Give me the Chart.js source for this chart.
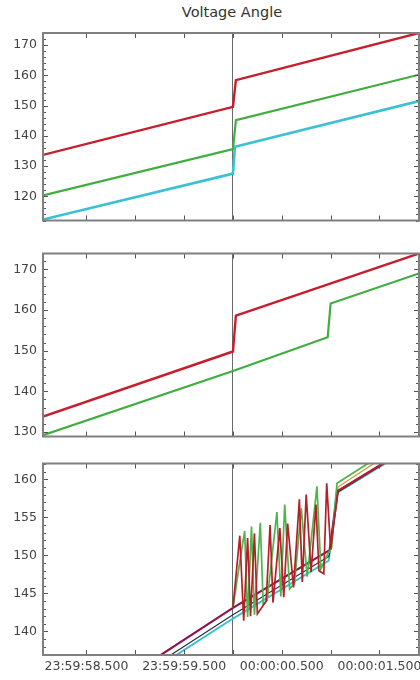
<!DOCTYPE html>
<html>
<head>
<meta charset="utf-8">
<script src="https://cdn.jsdelivr.net/npm/chart.js@4"></script>
<style>
  html, body { margin: 0; padding: 0; background: #fff; }
  #wrap { position: relative; width: 420px; height: 680px; overflow: hidden; }
  #wrap canvas { position: absolute; left: 0; }
  #title { position: absolute; top: 4px; left: 44px; width: 376px; text-align: center;
           font: 14.5px "DejaVu Sans", sans-serif; color: #333; }
</style>
</head>
<body>
<div id="wrap">
  <div id="title">Voltage Angle</div>
  <canvas id="c1" width="420" height="234" style="top:0"></canvas>
  <canvas id="c2" width="420" height="210" style="top:240px"></canvas>
  <canvas id="c3" width="420" height="230" style="top:450px"></canvas>
</div>
<script>
// ---- Data (time in seconds relative to 00:00:00.000, angle in degrees) ----
const timeRange = [-1.945, 1.905];
const labelTimes = [-1.5, -0.5, 0.5, 1.5];
const timeLabels = ["23:59:58.500", "23:59:59.500", "00:00:00.500", "00:00:01.500"];

// panel 1
const p1Red   = [[-1.945, 133.7], [0, 149.6], [0.03, 158.4], [1.905, 174.0]];
const p1Green = [[-1.945, 120.3], [0, 135.6], [0.03, 145.2], [1.905, 160.2]];
const p1Cyan  = [[-1.945, 112.3], [0, 127.5], [0.02, 136.4], [1.905, 151.5]];

// panel 2
const p2Red   = [[-1.945, 133.8], [0, 149.8], [0.03, 158.6], [1.905, 173.9]];
const p2Green = [[-1.945, 129.2], [0, 145.0], [0.97, 153.3], [1.0, 161.6], [1.905, 169.0]];

// panel 3
const p3Red = [[0, 143.1], [0.07, 152.6], [0.11, 141.4], [0.15, 152.3], [0.18, 142.0], [0.22, 152.9],
  [0.25, 142.3], [0.34, 144.0], [0.38, 154.0], [0.41, 143.8], [0.48, 153.6], [0.52, 144.5],
  [0.56, 154.2], [0.62, 145.8], [0.68, 157.4], [0.71, 146.5], [0.75, 158.0], [0.80, 147.8],
  [0.85, 156.7], [0.88, 148.0], [0.93, 147.6], [0.96, 159.5], [1.0, 150.8], [1.075, 158.5],
  [1.53, 162.0], [1.905, 165.0]];
const p3Green = [[0, 143.1], [0.08, 150.0], [0.12, 153.2], [0.15, 141.9], [0.19, 153.8], [0.22, 142.2],
  [0.28, 154.3], [0.31, 143.5], [0.35, 144.1], [0.45, 155.7], [0.49, 144.6], [0.53, 156.7],
  [0.58, 145.6], [0.63, 146.3], [0.70, 156.2], [0.76, 147.2], [0.86, 159.1], [0.90, 148.2],
  [0.97, 150.2], [1.01, 151.0], [1.065, 159.5], [1.37, 162.0], [1.905, 166.4]];
const p3Purple = [[-1.945, 126.8], [0, 143.1], [0.99, 150.7], [1.075, 158.5], [1.905, 165.0]];
const p3Orange = [[0.99, 150.3], [1.075, 159.0], [1.905, 166.0]];
const p3Dark   = [[-1.945, 126.0], [0, 142.2], [0.985, 149.9], [1.065, 158.3], [1.905, 164.9]];
const p3Cyan   = [[-1.945, 125.6], [0, 141.7], [0.98, 149.3], [1.06, 158.2], [1.905, 164.8]];

// y ranges / steps per panel
const p1YRange = [112, 174], p1YStep = 10, p1Minor = 2;
const p2YRange = [128.9, 173.9], p2YStep = 10, p2Minor = 2;
const p3YRange = [136.9, 162.1], p3YStep = 5, p3Minor = 1;

document.addEventListener("DOMContentLoaded", function () {

    const FONT = { family: "'DejaVu Sans', sans-serif", size: 12.5 };
    const TXT = "#444";

    // --- inward ticks + frame ---
    const frameTicks = {
        id: "frameTicks",
        afterDraw(chart, args, opts) {
            const { ctx, chartArea: a, scales } = chart;
            const x = scales.x, y = scales.y;
            ctx.save();
            ctx.strokeStyle = "#555";
            ctx.lineWidth = 1;
            ctx.beginPath();
            x.ticks.forEach(t => {
                const px = Math.round(x.getPixelForValue(t.value)) + 0.5;
                ctx.moveTo(px, a.top); ctx.lineTo(px, a.top + 5);
                ctx.moveTo(px, a.bottom); ctx.lineTo(px, a.bottom - 5);
            });
            const m = opts.minor;
            const i0 = Math.ceil(y.min / m), i1 = Math.floor(y.max / m);
            for (let i = i0; i <= i1; i++) {
                const v = i * m;
                const len = (Math.abs(v % opts.major) < 1e-6) ? 5 : 3;
                const py = Math.round(y.getPixelForValue(v)) + 0.5;
                ctx.moveTo(a.left, py); ctx.lineTo(a.left + len, py);
                ctx.moveTo(a.right, py); ctx.lineTo(a.right - len, py);
            }
            ctx.stroke();
            ctx.strokeStyle = "#808080";
            ctx.lineWidth = 2;
            ctx.strokeRect(a.left, a.top, a.width, a.height);
            ctx.restore();
        }
    };

    function ds(points, color, width) {
        return {
            data: points.map(p => ({ x: p[0], y: p[1] })),
            borderColor: color,
            borderWidth: width,
            pointRadius: 0,
            tension: 0,
            fill: false
        };
    }

    function makeChart(id, datasets, yRange, yStep, minor, pad, showX) {
        return new Chart(document.getElementById(id), {
            type: "line",
            data: { datasets: datasets },
            plugins: [frameTicks],
            options: {
                responsive: false,
                animation: false,
                devicePixelRatio: 1,
                layout: { padding: { top: pad.top, bottom: pad.bottom, left: 0, right: 1 } },
                plugins: {
                    legend: { display: false },
                    tooltip: { enabled: false },
                    frameTicks: { minor: minor, major: yStep }
                },
                scales: {
                    x: {
                        type: "linear",
                        min: timeRange[0],
                        max: timeRange[1],
                        border: { display: false },
                        grid: {
                            drawTicks: false,
                            lineWidth: 1,
                            color: c => (c.tick && Math.abs(c.tick.value) < 1e-9) ? "#6a6a6a" : "rgba(0,0,0,0)"
                        },
                        ticks: {
                            display: showX,
                            stepSize: 0.5,
                            includeBounds: false,
                            autoSkip: false,
                            maxRotation: 0,
                            padding: 4,
                            color: TXT,
                            font: FONT,
                            callback: v => {
                                const k = labelTimes.findIndex(t => Math.abs(t - v) < 1e-6);
                                return k >= 0 ? timeLabels[k] : "";
                            }
                        },
                        afterFit: s => { s.height = showX ? 25 : 0; s.paddingLeft = 0; s.paddingRight = 0; }
                    },
                    y: {
                        min: yRange[0],
                        max: yRange[1],
                        border: { display: false },
                        grid: { display: false, drawTicks: false },
                        ticks: { stepSize: yStep, includeBounds: false, padding: 6, color: TXT, font: FONT },
                        afterFit: s => { s.width = 43; }
                    }
                }
            }
        });
    }

    const RED = "#c81e2c", GREEN = "#3fae3f", CYAN = "#38c2d2";

    makeChart("c1", [
        ds(p1Red, RED, 2.4),
        ds(p1Green, GREEN, 2.2),
        ds(p1Cyan, CYAN, 2.6)
    ], p1YRange, p1YStep, p1Minor, { top: 33, bottom: 2 }, false);

    makeChart("c2", [
        ds(p2Red, RED, 2.4),
        ds(p2Green, GREEN, 2.2)
    ], p2YRange, p2YStep, p2Minor, { top: 5, bottom: 7 }, false);

    makeChart("c3", [
        ds(p3Red, "#b52028", 1.7),
        ds(p3Green, "#4cb54c", 1.7),
        ds(p3Purple, "#8c1450", 2.2),
        ds(p3Orange, "#d9902e", 1.2),
        ds(p3Dark, "#2b2f3a", 1.2),
        ds(p3Cyan, CYAN, 2)
    ], p3YRange, p3YStep, p3Minor, { top: 5, bottom: 0 }, true);
});
</script>
</body>
</html>
